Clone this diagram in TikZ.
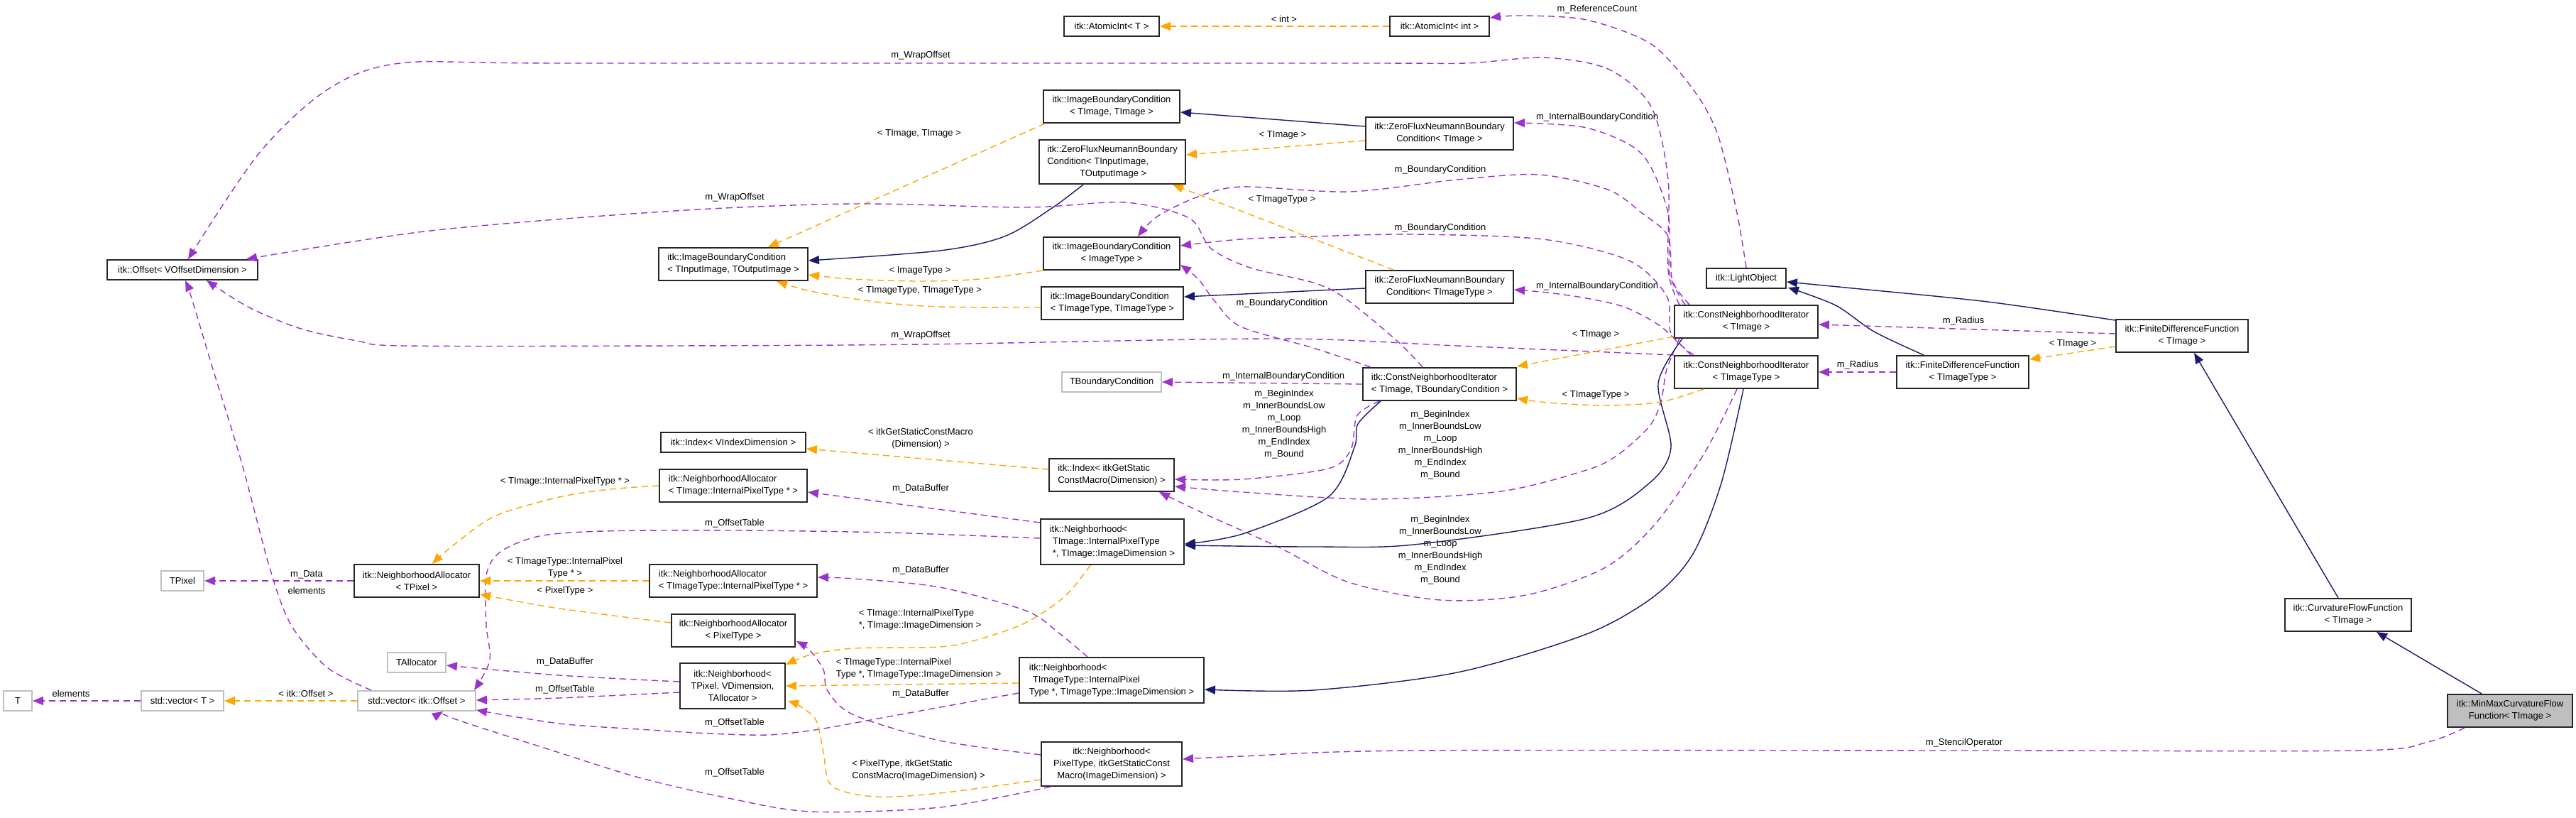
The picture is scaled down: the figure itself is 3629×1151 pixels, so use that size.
\documentclass[tikz,border=0pt]{standalone}
\usepackage{fontspec}
\setmainfont{Liberation Sans}
\usetikzlibrary{arrows.meta,calc}
\definecolor{purp}{HTML}{9A32CD}
\definecolor{orng}{HTML}{FFA500}
\definecolor{navy}{HTML}{191970}
\definecolor{gbd}{HTML}{BFBFBF}
\tikzset{
  every node/.style={font=\fontsize{13}{17}\selectfont},
  cls/.style={draw=black!85, line width=2pt, fill=white, inner sep=2pt, align=center},
  clsl/.style={cls, align=left},
  ext/.style={cls, draw=gbd},
  lbl/.style={inner sep=0pt, align=center},
  lbll/.style={inner sep=0pt, align=left},
  tipA/.style={-{Triangle[length=15pt,width=12pt]}},
  mem/.style={draw=purp, line width=1.4pt, dash pattern=on 9pt off 6pt, tipA},
  tmpl/.style={draw=orng, line width=1.4pt, dash pattern=on 9pt off 6pt, tipA},
  inh/.style={draw=navy, line width=1.4pt, tipA},
}
\begin{document}
\begin{tikzpicture}[x=1pt,y=-1pt]
\useasboundingbox (0,0) rectangle (3629,1151);
% ---------- nodes ----------
\node[cls, minimum width=134pt, minimum height=28pt] (AIT) at (1566,37) {itk::AtomicInt< T >};
\node[cls, minimum width=140pt, minimum height=28pt] (AII) at (2028,37) {itk::AtomicInt< int >};
\node[cls, minimum width=112pt, minimum height=28pt] (LO) at (2460,392) {itk::LightObject};
\node[cls, minimum width=212pt, minimum height=28pt] (OFF) at (257,380) {itk::Offset< VOffsetDimension >};
\node[cls, minimum width=192pt, minimum height=46pt] (IBCTT) at (1566,150) {itk::ImageBoundaryCondition\\< TImage, TImage >};
\node[clsl, minimum width=206pt, minimum height=62pt] (ZFIO) at (1567,228) {itk::ZeroFluxNeumannBoundary\\Condition< TInputImage,\\\hspace*{46pt}TOutputImage >};
\node[clsl, minimum width=210pt, minimum height=46pt] (IBCIO) at (1033,372) {itk::ImageBoundaryCondition\\< TInputImage, TOutputImage >};
\node[cls, minimum width=192pt, minimum height=46pt] (IBCIT) at (1566,357) {itk::ImageBoundaryCondition\\< ImageType >};
\node[clsl, minimum width=200pt, minimum height=46pt] (IBCTTT) at (1567,427) {itk::ImageBoundaryCondition\\< TImageType, TImageType >};
\node[cls, minimum width=208pt, minimum height=46pt] (ZFT) at (2028,188) {itk::ZeroFluxNeumannBoundary\\Condition< TImage >};
\node[cls, minimum width=208pt, minimum height=46pt] (ZFTT) at (2028,404) {itk::ZeroFluxNeumannBoundary\\Condition< TImageType >};
\node[cls, minimum width=202pt, minimum height=46pt] (CNIT) at (2460,453) {itk::ConstNeighborhoodIterator\\< TImage >};
\node[cls, minimum width=202pt, minimum height=46pt] (CNITT) at (2460,524) {itk::ConstNeighborhoodIterator\\< TImageType >};
\node[cls, minimum width=186pt, minimum height=46pt] (FDFT) at (3074,473) {itk::FiniteDifferenceFunction\\< TImage >};
\node[cls, minimum width=186pt, minimum height=46pt] (FDFTT) at (2765,524) {itk::FiniteDifferenceFunction\\< TImageType >};
\node[clsl, minimum width=216pt, minimum height=46pt] (CNIB) at (2028,541) {itk::ConstNeighborhoodIterator\\< TImage, TBoundaryCondition >};
\node[ext, minimum width=140pt, minimum height=28pt] (TBC) at (1566,538) {TBoundaryCondition};
\node[cls, minimum width=204pt, minimum height=28pt] (IDXV) at (1033,623) {itk::Index< VIndexDimension >};
\node[clsl, minimum width=176pt, minimum height=46pt] (IDXD) at (1566,669) {itk::Index< itkGetStatic\\ConstMacro(Dimension) >};
\node[clsl, minimum width=208pt, minimum height=46pt] (NA1) at (1033,684) {itk::NeighborhoodAllocator\\< TImage::InternalPixelType * >};
\node[clsl, minimum width=202pt, minimum height=64pt] (NB1) at (1567,763) {itk::Neighborhood<\\\hspace*{4pt}TImage::InternalPixelType\\\hspace*{4pt}*, TImage::ImageDimension >};
\node[clsl, minimum width=236pt, minimum height=46pt] (NA2) at (1033,818) {itk::NeighborhoodAllocator\\< TImageType::InternalPixelType * >};
\node[cls, minimum width=174pt, minimum height=46pt] (NA3) at (1033,888) {itk::NeighborhoodAllocator\\< PixelType >};
\node[cls, minimum width=148pt, minimum height=64pt] (NBT) at (1032,966) {itk::Neighborhood<\\TPixel, VDimension,\\TAllocator >};
\node[clsl, minimum width=260pt, minimum height=64pt] (NB2) at (1566,958) {itk::Neighborhood<\\\hspace*{5pt}TImageType::InternalPixel\\Type *, TImageType::ImageDimension >};
\node[cls, minimum width=198pt, minimum height=62pt] (NB3) at (1566,1076) {itk::Neighborhood<\\PixelType, itkGetStaticConst\\Macro(ImageDimension) >};
\node[cls, minimum width=178pt, minimum height=46pt] (CFF) at (3308,866) {itk::CurvatureFlowFunction\\< TImage >};
\node[cls, fill=gbd, minimum width=176pt, minimum height=46pt] (MM) at (3536,1001) {itk::MinMaxCurvatureFlow\\Function< TImage >};
\node[ext, minimum width=60pt, minimum height=28pt] (TPIX) at (257,818) {TPixel};
\node[cls, minimum width=176pt, minimum height=46pt] (NAP) at (587,818) {itk::NeighborhoodAllocator\\< TPixel >};
\node[ext, minimum width=82pt, minimum height=28pt] (TALL) at (587,933) {TAllocator};
\node[ext, minimum width=40pt, minimum height=28pt] (TT) at (25,987) {T};
\node[ext, minimum width=116pt, minimum height=28pt] (SVT) at (257,987) {std::vector< T >};
\node[ext, minimum width=166pt, minimum height=28pt] (SVO) at (587,987) {std::vector< itk::Offset >};
% ---------- edges ----------
\draw[tmpl] (AII.west) -- (AIT.east);
\node[lbl] (l1) at (1809,27) {< int >};
\draw[mem] plot[smooth] coordinates {(LO.north) (2447,300) (2420,190) (2386,127) (2326,62) (2235,28) (2144,22) ($(AII.east)+(0,-12)$)};
\node[lbl] (l2) at (2250,13) {m\_ReferenceCount};
\draw[inh] ($(ZFT.west)+(0,-10)$) -- ($(IBCTT.east)+(0,8)$);
\draw[tmpl] ($(ZFT.west)+(0,10)$) -- ($(ZFIO.east)+(0,-10)$);
\node[lbl] (l4) at (1807,190) {< TImage >};
\draw[inh] plot[smooth] coordinates {($(ZFIO.south)+(-41,0)$) (1482,293) (1415,333) (1324,353) ($(IBCIO.east)+(0,-5)$)};
\draw[tmpl] ($(IBCTT.south west)+(3,0)$) -- ($(IBCIO.north)+(49,0)$);
\node[lbl] (l6) at (1295,188) {< TImage, TImage >};
\draw[tmpl] plot[smooth] coordinates {(IBCIT.south west) (1380,393) (1294,396) (1200,393) ($(IBCIO.east)+(0,15)$)};
\node[lbl] (l7) at (1296,381) {< ImageType >};
\draw[tmpl] plot[smooth] coordinates {($(IBCTTT.west)+(0,6)$) (1324,432) (1233,425) (1142,410) ($(IBCIO.south)+(61,0)$)};
\node[lbl] (l8) at (1296,409) {< TImageType, TImageType >};
\draw[inh] ($(ZFTT.west)+(0,2)$) -- ($(IBCTTT.east)+(0,-9)$);
\draw[tmpl] ($(ZFTT.north west)+(40,0)$) -- ($(ZFIO.south east)+(-19,0)$);
\node[lbl] (l10) at (1806,281) {< TImageType >};
\draw[mem] plot[smooth] coordinates {($(CNIT.north west)+(16,0)$) (2352,385) (2350,300) (2313,217) (2235,180) ($(ZFT.east)+(0,-15)$)};
\node[lbl] (l11) at (2250,165) {m\_InternalBoundaryCondition};
\draw[mem] plot[smooth] coordinates {($(CNITT.north west)+(24,0)$) (2340,460) (2290,433) (2235,420) (2180,412) ($(ZFTT.east)+(0,4)$)};
\node[lbl] (l12) at (2250,403) {m\_InternalBoundaryCondition};
\draw[mem] plot[smooth] coordinates {($(CNIT.north west)+(22,0)$) (2356,395) (2350,333) (2313,300) (2265,267) (2168,246) (2053,253) (1901,270) (1750,263) (1688,277) (1630,305) ($(IBCIT.north)+(37,0)$)};
\node[lbl] (l13) at (2029,239) {m\_BoundaryCondition};
\draw[mem] plot[smooth] coordinates {($(CNITT.north west)+(28,0)$) (2354,470) (2348,417) (2295,367) (2174,337) (1992,330) (1850,333) (1748,337) ($(IBCIT.east)+(0,-11)$)};
\node[lbl] (l14) at (2029,321) {m\_BoundaryCondition};
\draw[mem] plot[smooth] coordinates {($(CNIT.north west)+(8,0)$) (2350,380) (2350,253) (2326,150) (2265,97) (2174,81) (2065,89) (1900,89) (800,89) (564,89) (460,127) (364,217) ($(OFF.north)+(8,0)$)};
\node[lbl] (l15) at (1297,78) {m\_WrapOffset};
\draw[mem] plot[smooth] coordinates {($(CNIB.north)+(-24,0)$) (1968,480) (1895,420) (1850,398) (1761,377) (1706,350) (1675,307) (1585,285) (1445,292) (1203,287) (950,297) (606,325) ($(OFF.north east)+(-17,0)$)};
\node[lbl] (l16) at (1035,278) {m\_WrapOffset};
\draw[mem] plot[smooth] coordinates {(CNITT.north west) (2053,487) (1800,477) (1297,485) (950,487) (570,487) (503,480) (424,463) (351,433) ($(OFF.south)+(34,0)$)};
\node[lbl] (l17) at (1297,472) {m\_WrapOffset};
\draw[mem] plot[smooth] coordinates {($(CNIB.north west)+(12,0)$) (1850,490) (1748,460) (1712,425) (1688,393) ($(IBCIT.east)+(0,16)$)};
\node[lbl] (l18) at (1806,427) {m\_BoundaryCondition};
\draw[mem] (CNIB.west) -- (TBC.east);
\node[lbl] (l19) at (1808,530) {m\_InternalBoundaryCondition};
\draw[mem] plot[smooth] coordinates {($(CNIB.south west)+(24,0)$) (1912,585) (1903,633) (1871,660) (1750,675) ($(IDXD.east)+(0,6)$)};
\node[lbl] (l20) at (1809,598) {m\_BeginIndex\\m\_InnerBoundsLow\\m\_Loop\\m\_InnerBoundsHigh\\m\_EndIndex\\m\_Bound};
\draw[mem] plot[smooth] coordinates {($(CNIT.south west)+(8,0)$) (2348,520) (2340,565) (2324,600) (2280,640) (2235,662) (2114,692) (1932,703) (1750,693) ($(IDXD.east)+(0,16)$)};
\node[lbl] (l21) at (2029,627) {m\_BeginIndex\\m\_InnerBoundsLow\\m\_Loop\\m\_InnerBoundsHigh\\m\_EndIndex\\m\_Bound};
\draw[mem] plot[smooth] coordinates {($(CNITT.south)+(-13,0)$) (2400,640) (2330,740) (2260,800) (2150,838) (2029,845) (1900,820) (1800,770) (1700,725) ($(IDXD.south east)+(-22,0)$)};
\node[lbl] (l23) at (2029,775) {m\_BeginIndex\\m\_InnerBoundsLow\\m\_Loop\\m\_InnerBoundsHigh\\m\_EndIndex\\m\_Bound};
\draw[inh] plot[smooth] coordinates {($(CNIB.south west)+(26,0)$) (1913,597) (1908,630) (1871,700) (1750,752) ($(NB1.east)+(0,3)$)};
\draw[inh] plot[smooth] coordinates {($(CNIT.south west)+(12,0)$) (2336,540) (2354,630) (2324,680) (2235,730) (1992,767) (1850,770) ($(NB1.east)+(0,5)$)};
\draw[inh] plot[smooth] coordinates {($(CNITT.south)+(-4,0)$) (2425,680) (2385,780) (2330,840) (2235,893) (2053,947) (1850,972) ($(NB2.east)+(0,13)$)};
\draw[inh] plot[smooth] coordinates {($(FDFT.north west)+(0,2)$) (2800,425) (2600,405) ($(LO.east)+(0,5)$)};
\draw[inh] plot[smooth] coordinates {($(FDFTT.north west)+(39,0)$) (2640,467) (2586,430) ($(LO.south east)+(2,-2)$)};
\draw[inh] ($(CFF.north)+(-14,0)$) -- ($(FDFT.south)+(17,0)$);
\draw[inh] ($(MM.north)+(-40,0)$) -- ($(CFF.south)+(40,0)$);
\draw[mem] ($(FDFT.west)+(0,-3)$) -- ($(CNIT.east)+(0,4)$);
\node[lbl] (l30) at (2766,452) {m\_Radius};
\draw[mem] (FDFTT.west) -- (CNITT.east);
\node[lbl] (l31) at (2617,514) {m\_Radius};
\draw[tmpl] ($(FDFT.west)+(0,15)$) -- ($(FDFTT.north east)+(0,6)$);
\node[lbl] (l32) at (2920,484) {< TImage >};
\draw[tmpl] ($(CNIT.west)+(0,21)$) -- ($(CNIB.north east)+(0,-1)$);
\node[lbl] (l33) at (2248,471) {< TImage >};
\draw[tmpl] plot[smooth] coordinates {($(CNITT.south west)+(42,0)$) (2340,566) (2265,571) (2180,567) ($(CNIB.east)+(0,20)$)};
\node[lbl] (l34) at (2248,556) {< TImageType >};
\draw[mem] plot[smooth] coordinates {($(MM.south west)+(25,0)$) (3420,1045) (3322,1057) (2800,1057) (1992,1057) (1750,1065) ($(NB3.east)+(0,-7)$)};
\node[lbl] (l35) at (2767,1046) {m\_StencilOperator};
\draw[mem] ($(NB1.north west)+(0,6)$) -- ($(NA1.east)+(0,9)$);
\node[lbl] (l36) at (1297,688) {m\_DataBuffer};
\draw[mem] plot[smooth] coordinates {($(NB1.west)+(0,-5)$) (1250,750) (1035,747) (850,748) (760,755) (705,777) (685,810) (685,880) (690,930) ($(SVO.north east)+(-3,0)$)};
\node[lbl] (l37) at (1035,737) {m\_OffsetTable};
\draw[mem] plot[smooth] coordinates {($(NB2.north)+(-34,0)$) (1490,890) (1445,860) (1324,827) (1203,815) ($(NA2.east)+(0,-5)$)};
\node[lbl] (l38) at (1297,803) {m\_DataBuffer};
\draw[mem] plot[smooth] coordinates {($(NB2.west)+(0,18)$) (1264,1007) (1154,1027) (1082,1035) (1000,1033) (900,1027) (788,1019) ($(SVO.east)+(0,13)$)};
\node[lbl] (l39) at (1035,1018) {m\_OffsetTable};
\draw[mem] plot[smooth] coordinates {($(NB3.west)+(0,-13)$) (1324,1043) (1203,1007) (1166,973) (1160,943) (1140,915) ($(NA3.south east)+(1,-9)$)};
\node[lbl] (l40) at (1297,977) {m\_DataBuffer};
\draw[mem] plot[smooth] coordinates {($(NB3.south west)+(14,0)$) (1324,1137) (1142,1143) (1021,1123) (900,1095) (788,1060) (642,1013) ($(SVO.south)+(37,0)$)};
\node[lbl] (l41) at (1035,1088) {m\_OffsetTable};
\draw[mem] plot[smooth] coordinates {($(NBT.west)+(0,-6)$) (788,951) ($(TALL.east)+(0,4)$)};
\node[lbl] (l42) at (796,932) {m\_DataBuffer};
\draw[mem] plot[smooth] coordinates {($(NBT.west)+(0,9)$) (788,983) ($(SVO.east)+(0,-1)$)};
\node[lbl] (l43) at (796,971) {m\_OffsetTable};
\draw[mem] (NAP.west) -- (TPIX.east);
\node[lbl] (l44) at (432,809) {m\_Data};
\draw[mem] plot[smooth] coordinates {($(SVO.north west)+(20,0)$) (461,940) (410,880) (380,800) (340,650) (300,520) (270,420) ($(OFF.south)+(4,0)$)};
\node[lbl] (l45) at (432,832) {elements};
\draw[mem] (SVT.west) -- (TT.east);
\node[lbl] (l46) at (100,977) {elements};
\draw[tmpl] (SVO.west) -- (SVT.east);
\node[lbl] (l47) at (431,977) {< itk::Offset >};
\draw[tmpl] plot[smooth] coordinates {(NA1.west) (860,689) (788,700) (697,727) (636,770) ($(NAP.north)+(22,0)$)};
\node[lbl] (l48) at (796,678) {< TImage::InternalPixelType * >};
\draw[tmpl] (NA2.west) -- (NAP.east);
\node[lbl] (l49) at (796,800) {< TImageType::InternalPixel\\Type * >};
\draw[tmpl] plot[smooth] coordinates {($(NA3.west)+(0,-11)$) (788,857) ($(NAP.east)+(0,19)$)};
\node[lbl] (l50) at (796,832) {< PixelType >};
\draw[tmpl] plot[smooth] coordinates {($(NB1.south)+(-31,0)$) (1500,840) (1445,877) (1380,900) (1324,911) (1203,913) (1142,922) ($(NBT.north east)+(0,3)$)};
\node[lbll] (l51) at (1296,873) {< TImage::InternalPixelType\\*, TImage::ImageDimension >};
\draw[tmpl] ($(NB2.west)+(0,4)$) -- (NBT.east);
\node[lbll] (l52) at (1294,942) {< TImageType::InternalPixel\\Type *, TImageType::ImageDimension >};
\draw[tmpl] plot[smooth] coordinates {($(NB3.west)+(0,22)$) (1324,1117) (1233,1122) (1172,1107) (1160,1060) (1150,1015) (1128,995) ($(NBT.east)+(3,21)$)};
\node[lbll] (l53) at (1294,1085) {< PixelType, itkGetStatic\\ConstMacro(ImageDimension) >};
\draw[tmpl] ($(IDXD.west)+(0,-8)$) -- ($(IDXV.east)+(0,9)$);
\node[lbl] (l54) at (1297,618) {< itkGetStaticConstMacro\\(Dimension) >};
\end{tikzpicture}
\end{document}
